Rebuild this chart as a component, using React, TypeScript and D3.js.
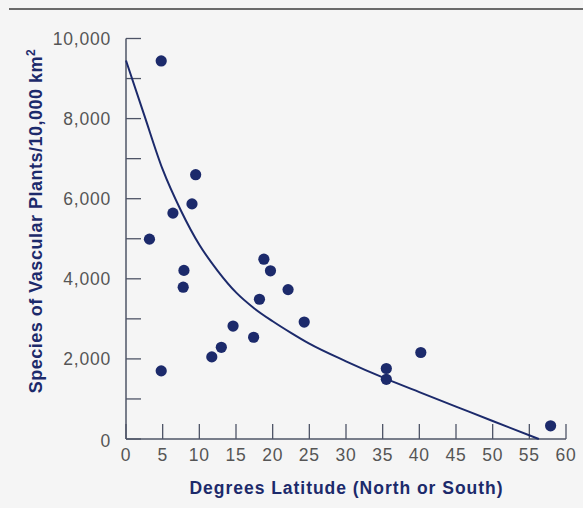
import React from 'react';
import * as d3 from 'd3';

// observed sites: latitude (deg) and species per 10,000 km2
const latitude = [4.8, 9.5, 9.0, 6.4, 3.2, 7.9, 7.8, 18.8, 19.7, 22.1, 18.2, 24.3, 14.6, 17.4, 11.7, 13.0, 4.8, 35.5, 35.5, 40.2, 57.9];
const species = [9440, 6600, 5870, 5640, 4990, 4210, 3790, 4490, 4200, 3730, 3490, 2920, 2820, 2540, 2050, 2290, 1700, 1760, 1490, 2160, 330];

// fitted trend line
const trendLat = [0, 2.5, 5, 7.5, 10, 12.5, 15, 17.5, 20, 22.5, 25, 30, 35.5, 40, 45, 50, 56.3];
const trendSpecies = [9450, 8080, 6730, 5700, 4850, 4200, 3660, 3260, 2940, 2650, 2380, 1940, 1500, 1170, 810, 450, 0];

const xTicks = [0, 5, 10, 15, 20, 25, 30, 35, 40, 45, 50, 55, 60];
const yTicks = [0, 1000, 2000, 3000, 4000, 5000, 6000, 7000, 8000, 9000, 10000];
const yLabels = [0, 2000, 4000, 6000, 8000, 10000];

const W = 583;
const H = 508;
const navy = '#1c2a6b';
const axisColor = '#4e5466';
const font = '"Liberation Sans", Arial, Helvetica, sans-serif';

export default function App() {
  const x = d3.scaleLinear().domain([0, 60]).range([126, 566]);
  const y = d3.scaleLinear().domain([0, 10000]).range([439, 38.5]);
  const fmt = d3.format(',');

  const trend = trendLat.map((t, i) => [t, trendSpecies[i]] as [number, number]);
  const line = d3.line<[number, number]>()
    .x(d => x(d[0]))
    .y(d => y(d[1]))
    .curve(d3.curveMonotoneX);

  const tickLen = 15;

  return (
    <svg width={W} height={H} style={{ position: 'absolute', left: 0, top: 0 }} fontFamily={font}>
      <rect x={0} y={0} width={W} height={H} fill="#f5f5f5" />
      <line x1={9} x2={W} y1={9} y2={9} stroke="#6a6a6a" strokeWidth={2} />

      {/* y axis */}
      <line x1={x(0)} x2={x(0)} y1={y(10000)} y2={y(0)} stroke={axisColor} strokeWidth={1.5} />
      {yTicks.map(t => (
        <line key={'yt' + t} x1={x(0)} x2={x(0) + tickLen} y1={y(t)} y2={y(t)} stroke={axisColor} strokeWidth={1.3} />
      ))}
      {yLabels.map(t => (
        <text key={'yl' + t} x={111} y={t === 0 ? y(t) + 2 : y(t)} dy="0.35em" textAnchor="end"
          fontSize={17.5} letterSpacing={0.8} fill="#555">{fmt(t)}</text>
      ))}

      {/* x axis */}
      <line x1={x(0)} x2={x(60)} y1={y(0)} y2={y(0)} stroke={axisColor} strokeWidth={1.5} />
      {xTicks.map(t => (
        <line key={'xt' + t} x1={x(t)} x2={x(t)} y1={y(0)} y2={y(0) - tickLen} stroke={axisColor} strokeWidth={1.3} />
      ))}
      {xTicks.map(t => (
        <text key={'xl' + t} x={x(t)} y={461} textAnchor="middle"
          fontSize={17.5} letterSpacing={0.8} fill="#555">{t}</text>
      ))}

      {/* titles */}
      <text x={346} y={494} textAnchor="middle" fontSize={17.5} fontWeight="bold" fill={navy}
        textLength={313} lengthAdjust="spacing">Degrees Latitude (North or South)</text>
      <text transform="translate(42,221) rotate(-90)" textAnchor="middle" fontSize={18}
        letterSpacing={0.5} fontWeight="bold" fill={navy}>
        Species of Vascular Plants/10,000 km<tspan dy={-7} fontSize={12}>2</tspan>
      </text>

      {/* trend */}
      <path d={line(trend) || ''} fill="none" stroke={navy} strokeWidth={2} />

      {/* points */}
      {latitude.map((lat, i) => (
        <circle key={'p' + i} cx={x(lat)} cy={y(species[i])} r={5.6} fill={navy} />
      ))}
    </svg>
  );
}
